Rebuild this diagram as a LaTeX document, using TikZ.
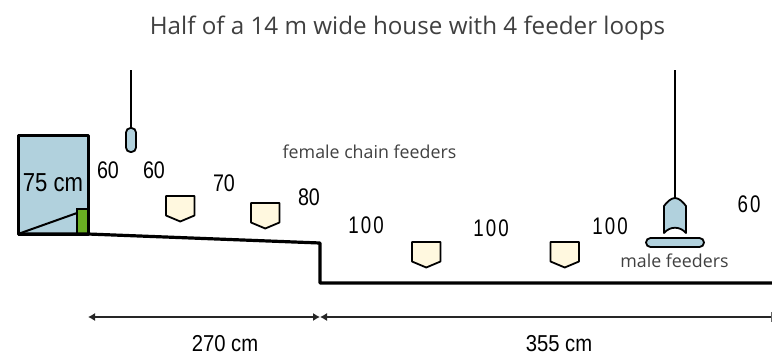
\documentclass[tikz,border=0pt]{standalone}
\usepackage{fontspec}
\setmainfont{Open Sans}
\newfontfamily\numfont{Liberation Sans}
\newfontfamily\numwide[LetterSpace=11]{Liberation Sans}
\usetikzlibrary{arrows.meta}
\definecolor{boxblue}{HTML}{B1D1DD}
\definecolor{boxgreen}{HTML}{6AAE22}
\definecolor{feedercream}{HTML}{FFF8DF}
\definecolor{labelgrey}{HTML}{404040}
\tikzset{
    feeder/.style = {draw=black, line width=1.8pt, fill=feedercream, line join=round},
    malepart/.style = {draw=black, line width=1.8pt, fill=boxblue, line join=round},
    size/.style = {font=\fontsize{24}{24}\selectfont\numfont, xscale=0.82, inner sep=0pt},
    sizewide/.style = {font=\fontsize{24}{24}\selectfont\numwide, xscale=0.78, inner sep=0pt},
    span/.style = {black!85, line width=1.1pt, {Latex[length=7pt,width=8pt]}-{Latex[length=7pt,width=8pt]}},
    spantext/.style = {font=\fontsize{23}{23}\selectfont\numfont, xscale=0.88, inner sep=0pt},
    note/.style = {labelgrey, inner sep=0pt}
}
\begin{document}
\begin{tikzpicture}[x=1pt,y=-1pt]
    \useasboundingbox (0,0) rectangle (772,357);
    % title
    \node[note, font=\fontsize{24.2}{24}\selectfont] (title) at (407.5,28) {Half of a 14 m wide house with 4 feeder loops};
    % box at the wall
    \draw[black, line width=3pt, fill=boxblue, line join=round] (18,135) rectangle (88,234);
    \draw[black, line width=1.8pt, fill=boxgreen] (77,209) rectangle (88,234);
    \draw[black, line width=2pt] (18,234) -- (77,213);
    \node[inner sep=0pt, xscale=0.85, font=\fontsize{26}{26}\selectfont\numfont] (boxsize) at (53,183) {75 cm};
    % floor
    \draw[black, line width=3.2pt, line join=round] (18,234) -- (88,234) -- (320,243) -- (320,283) -- (772,283);
    % hanging capsule
    \draw[black, line width=1.8pt] (131,70) -- (131,128);
    \draw[malepart, rounded corners=4.5pt] (126,128) rectangle (136,152);
    % female feeders
    \foreach \xpos/\ypos in {166/196, 251/203, 412/242, 550.5/242}
        \draw[feeder, shift={(\xpos,\ypos)}] (0,0) -- (28.5,0) -- (28.5,19.5) -- (14.25,25.5) -- (0,19.5) -- cycle;
    % male feeder
    \draw[black, line width=1.8pt] (675,70) -- (675,198);
    \draw[malepart] (664,233) -- (664,206) .. controls (667,202) and (671,198) .. (675,198) .. controls (679,198) and (683,202) .. (686,206) -- (686,233) .. controls (680,226) and (670,226) .. (664,233) -- cycle;
    \draw[malepart, rounded corners=4.5pt] (646,238) rectangle (704,247);
    % spacing numbers
    \node[size] (a) at (108,170) {60};
    \node[size] (b) at (154,170) {60};
    \node[size] (c) at (224,183) {70};
    \node[size] (d) at (309,197) {80};
    \node[sizewide] (e) at (366,225) {100};
    \node[sizewide] (f) at (491,228) {100};
    \node[sizewide] (g) at (610,226) {100};
    \node[sizewide] (h) at (749,204) {60};
    % labels
    \node[note, font=\fontsize{17.8}{17.8}\selectfont] (female) at (369.5,152) {female chain feeders};
    \node[note, font=\fontsize{17.8}{17.8}\selectfont] (male) at (674.5,261) {male feeders};
    % dimensions
    \coordinate (left) at (88,317);
    \coordinate (mid) at (320,317);
    \coordinate (right) at (771.5,317);
    \draw[span] (left) -- (mid);
    \draw[black!85, line width=1.1pt, {Latex[length=7pt,width=8pt]}-] (mid) -- (right);
    \draw[black!60, line width=1pt] (771.5,312) -- (771.5,322);
    \node[spantext] (first) at (225,344) {270 cm};
    \node[spantext] (second) at (559,344) {355 cm};
\end{tikzpicture}
\end{document}
